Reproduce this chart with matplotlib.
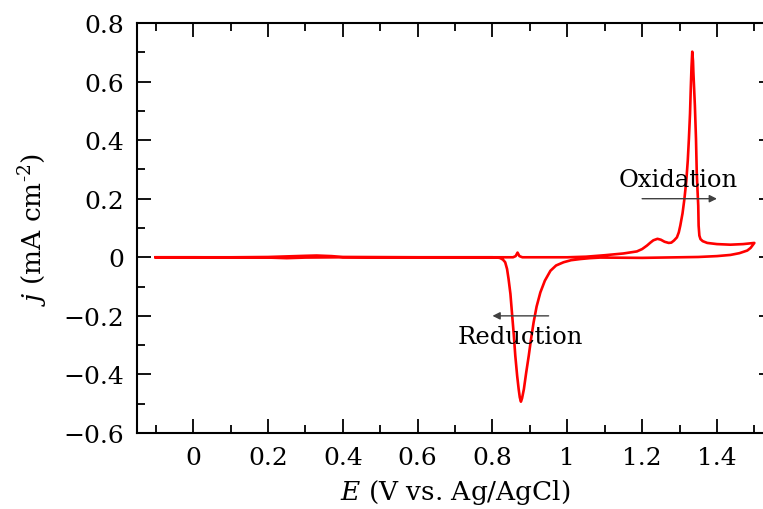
import matplotlib
matplotlib.use("Agg")
import matplotlib.pyplot as plt
from matplotlib.ticker import MultipleLocator

plt.rcParams["font.family"] = ["DejaVu Serif"]
plt.rcParams["mathtext.fontset"] = "dejavuserif"

# Positive-going sweep: potential (V vs. Ag/AgCl) and current density (mA cm^-2)
E_forward = [-0.10, 0.00, 0.10, 0.20, 0.25, 0.30, 0.33, 0.37, 0.40, 0.60, 0.80,
             0.855, 0.862, 0.867, 0.872, 0.880, 1.00, 1.05, 1.10, 1.15, 1.186,
             1.20, 1.213, 1.222, 1.230, 1.241, 1.250, 1.260, 1.271, 1.278, 1.285,
             1.293, 1.298, 1.302, 1.308, 1.313, 1.318, 1.322, 1.325, 1.328, 1.330,
             1.332, 1.334, 1.336, 1.337, 1.341, 1.344, 1.346, 1.348, 1.350, 1.351,
             1.353, 1.356, 1.362, 1.374, 1.40, 1.436, 1.47, 1.50]
j_forward = [0.000, 0.000, 0.000, 0.001, 0.003, 0.005, 0.006, 0.004, 0.001, 0.000, 0.000,
             0.000, 0.004, 0.016, 0.004, 0.000, 0.000, 0.002, 0.007, 0.013, 0.020,
             0.028, 0.040, 0.050, 0.058, 0.063, 0.060, 0.053, 0.049, 0.050, 0.057,
             0.068, 0.085, 0.108, 0.150, 0.199, 0.260, 0.330, 0.404, 0.490, 0.575,
             0.650, 0.702, 0.670, 0.632, 0.518, 0.404, 0.290, 0.230, 0.176, 0.108,
             0.074, 0.062, 0.055, 0.049, 0.045, 0.043, 0.045, 0.049]

# Negative-going sweep
E_reverse = [1.50, 1.49, 1.481, 1.46, 1.436, 1.40, 1.35, 1.30, 1.20, 1.088, 1.06,
             1.035, 1.010, 0.990, 0.970, 0.955, 0.940, 0.928, 0.918, 0.910, 0.903,
             0.897, 0.890, 0.884, 0.879, 0.876, 0.873, 0.870, 0.866, 0.861, 0.857,
             0.852, 0.848, 0.843, 0.839, 0.834, 0.828, 0.821, 0.815, 0.80, 0.60,
             0.40, 0.30, 0.25, 0.20, 0.00, -0.10]
j_reverse = [0.049, 0.032, 0.023, 0.014, 0.008, 0.004, 0.001, 0.000, -0.002, -0.001, -0.003,
             -0.006, -0.010, -0.017, -0.028, -0.046, -0.080, -0.120, -0.168, -0.222, -0.280,
             -0.336, -0.395, -0.450, -0.482, -0.493, -0.478, -0.450, -0.405, -0.336, -0.265,
             -0.188, -0.125, -0.074, -0.040, -0.017, -0.008, -0.003, -0.001, 0.000, 0.000,
             0.000, -0.001, -0.003, -0.001, 0.000, 0.000]

x_ticks = [0, 0.2, 0.4, 0.6, 0.8, 1.0, 1.2, 1.4]
x_tick_labels = ["0", "0.2", "0.4", "0.6", "0.8", "1", "1.2", "1.4"]
y_ticks = [-0.6, -0.4, -0.2, 0, 0.2, 0.4, 0.6, 0.8]
y_tick_labels = ["\u22120.6", "\u22120.4", "\u22120.2", "0", "0.2", "0.4", "0.6", "0.8"]

fig = plt.figure(figsize=(7.63, 5.10), dpi=100)
ax = fig.add_axes([0.1796, 0.149, 0.8336, 0.804])

E_all = E_forward + E_reverse
j_all = j_forward + j_reverse
ax.plot(E_all, j_all, color="#ff0000", lw=1.9, solid_joinstyle="round")

ax.set_xlim(-0.15, 1.55)
ax.set_ylim(-0.6, 0.8)
ax.set_xticks(x_ticks)
ax.set_xticklabels(x_tick_labels)
ax.set_yticks(y_ticks)
ax.set_yticklabels(y_tick_labels)
ax.xaxis.set_minor_locator(MultipleLocator(0.1))
ax.yaxis.set_minor_locator(MultipleLocator(0.1))

ax.tick_params(which="both", direction="in", top=True, right=True,
               width=1.3, labelsize=18, pad=9)
ax.tick_params(which="major", length=10)
ax.tick_params(which="minor", length=6)
for s in ax.spines.values():
    s.set_linewidth(1.5)

ax.set_xlabel("$E$ (V vs. Ag/AgCl)", fontsize=19, labelpad=6)
ax.set_ylabel("$j$ (mA cm$^{\\text{-}2}$)", fontsize=19, labelpad=10)

arrow_kw = dict(arrowstyle="-|>", color="0.25", lw=1.0, mutation_scale=11,
                shrinkA=0, shrinkB=0)
ax.annotate("", xy=(1.40, 0.2), xytext=(1.20, 0.2), arrowprops=arrow_kw)
ax.annotate("", xy=(0.80, -0.2), xytext=(0.95, -0.2), arrowprops=arrow_kw)
ax.text(1.297, 0.264, "Oxidation", fontsize=17.5, ha="center", va="center", zorder=5)
ax.text(0.874, -0.272, "Reduction", fontsize=17.5, ha="center", va="center", zorder=5)

fig.savefig("out.png", dpi=100)
